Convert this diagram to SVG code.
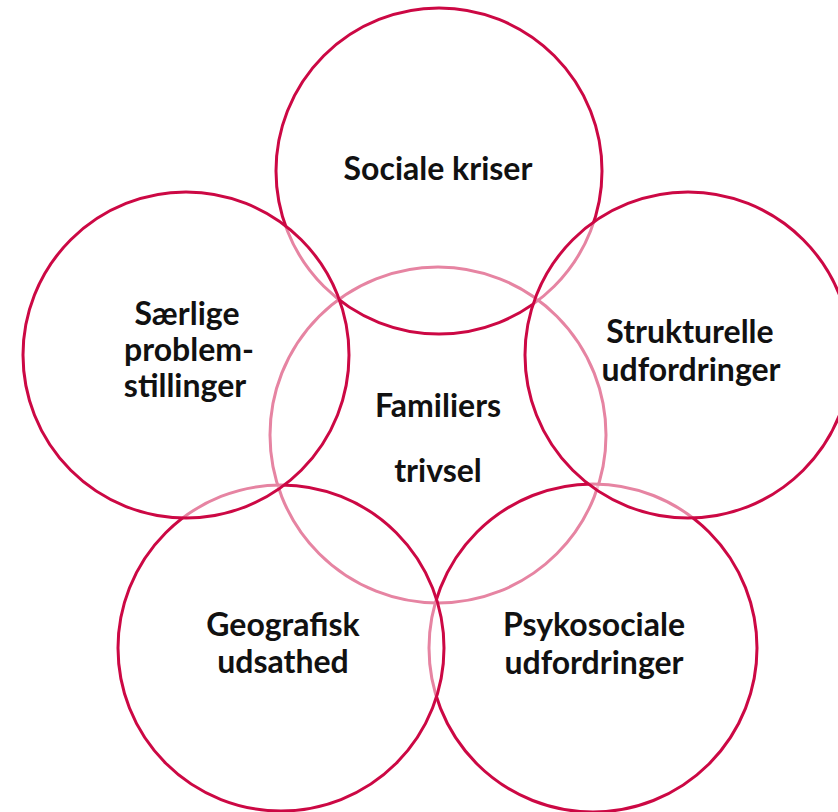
<svg xmlns="http://www.w3.org/2000/svg" width="838" height="812" viewBox="0 0 838 812">
  <style>
    .c { fill: #ffffff; fill-opacity: 0.5; stroke: #cc0844; stroke-width: 3; }
    .t { font-family: "Lato", "Liberation Sans", sans-serif; font-weight: bold; font-size: 32px; fill: #111111; text-anchor: middle; }
  </style>
  <rect width="838" height="812" fill="#ffffff"/>
  <g id="familiers-trivsel">
    <circle class="c" cx="438" cy="435" r="168"/>
  </g>
  <g id="sociale-kriser">
    <circle class="c" cx="439" cy="171" r="163"/>
    <text class="t" x="438" y="180">Sociale kriser</text>
  </g>
  <g id="psykosociale-udfordringer">
    <circle class="c" cx="593" cy="648" r="164"/>
    <text class="t" x="594" y="636">Psykosociale</text>
    <text class="t" x="594" y="674">udfordringer</text>
  </g>
  <g id="geografisk-udsathed">
    <circle class="c" cx="281" cy="648" r="163"/>
    <text class="t" x="283" y="636">Geografisk</text>
    <text class="t" x="283" y="673">udsathed</text>
  </g>
  <g id="saerlige-problemstillinger">
    <circle class="c" cx="186" cy="355" r="163"/>
    <text class="t" x="187" y="325">Særlige</text>
    <text class="t" x="189" y="361">problem-</text>
    <text class="t" x="185" y="397">stillinger</text>
  </g>
  <g id="strukturelle-udfordringer">
    <circle class="c" cx="688" cy="355" r="163"/>
    <text class="t" x="690" y="343">Strukturelle</text>
    <text class="t" x="691" y="381">udfordringer</text>
  </g>
  <g id="familiers-trivsel-label">
    <text class="t" x="438" y="417">Familiers</text>
    <text class="t" x="438" y="482">trivsel</text>
  </g>
</svg>
